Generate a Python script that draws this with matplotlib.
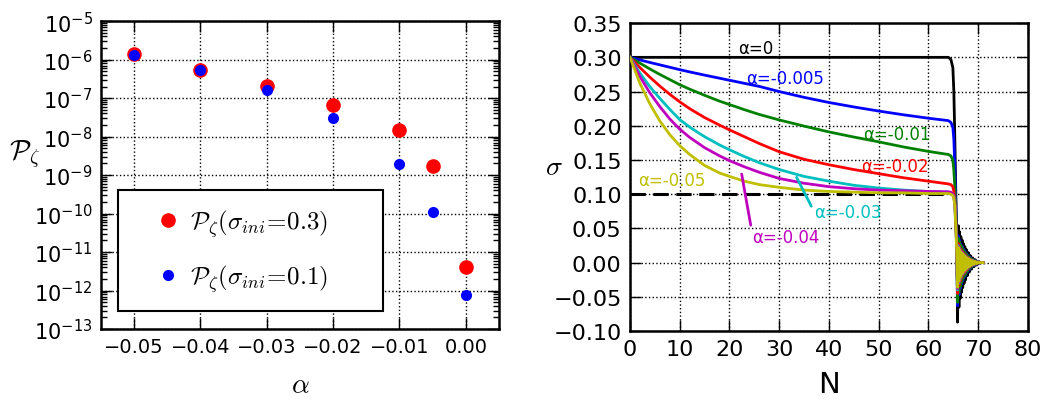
import matplotlib
matplotlib.use("Agg")
import matplotlib.pyplot as plt
import numpy as np
from matplotlib.ticker import FixedLocator, FuncFormatter, LogLocator, NullFormatter

plt.rcParams['mathtext.fontset'] = 'cm'
plt.rcParams['font.family'] = ['DejaVu Sans']

# ---------------- left panel data ----------------
alpha_vals = [-0.05, -0.04, -0.03, -0.02, -0.01, -0.005, 0.0]
P_sigma03 = [1.4e-6, 5.5e-7, 2.1e-7, 6.6e-8, 1.46e-8, 1.7e-9, 4.2e-12]
P_sigma01 = [1.35e-6, 5.5e-7, 1.6e-7, 3.0e-8, 1.9e-9, 1.08e-10, 7.6e-13]
alpha_ticks = [-0.05, -0.04, -0.03, -0.02, -0.01, 0.0]
alpha_ticklabels = ['\u22120.05', '\u22120.04', '\u22120.03', '\u22120.02', '\u22120.01', '0.00']
P_tick_exps = [-13, -12, -11, -10, -9, -8, -7, -6, -5]

# ---------------- right panel data ----------------
N_base = [0, 2, 4, 6, 8, 10, 12, 15, 18, 20, 23, 26, 30, 35, 40, 45, 50, 55, 60, 64,
          64.5, 64.9, 65.1, 65.3, 65.5, 65.7]
sig_a0 = [0.30, 0.30, 0.30, 0.30, 0.30, 0.30, 0.30, 0.30, 0.30, 0.30, 0.30, 0.30, 0.30, 0.30, 0.30, 0.30, 0.30, 0.30, 0.30, 0.300,
          0.297, 0.285, 0.25, 0.18, 0.10, 0.03]
sig_a0005 = [0.30, 0.2962, 0.2925, 0.289, 0.2855, 0.282, 0.2787, 0.274, 0.2695, 0.2665, 0.262, 0.2575, 0.250, 0.2415, 0.234, 0.2275, 0.2215, 0.216, 0.211, 0.2075,
             0.205, 0.198, 0.18, 0.14, 0.08, 0.025]
sig_a001 = [0.30, 0.2915, 0.283, 0.275, 0.2675, 0.260, 0.2535, 0.2445, 0.236, 0.231, 0.2235, 0.2165, 0.2085, 0.1995, 0.191, 0.1835, 0.1765, 0.169, 0.1625, 0.158,
            0.156, 0.150, 0.135, 0.11, 0.07, 0.02]
sig_a002 = [0.30, 0.285, 0.271, 0.258, 0.246, 0.235, 0.225, 0.212, 0.201, 0.194, 0.184, 0.174, 0.162, 0.151, 0.143, 0.136, 0.130, 0.124, 0.119, 0.115,
            0.114, 0.111, 0.104, 0.09, 0.06, 0.018]
sig_a003 = [0.30, 0.277, 0.257, 0.240, 0.224, 0.209, 0.198, 0.184, 0.172, 0.165, 0.155, 0.146, 0.136, 0.126, 0.119, 0.113, 0.109, 0.106, 0.104, 0.103,
            0.102, 0.100, 0.096, 0.085, 0.055, 0.015]
sig_a004 = [0.30, 0.272, 0.248, 0.228, 0.210, 0.195, 0.183, 0.168, 0.156, 0.149, 0.140, 0.132, 0.123, 0.116, 0.111, 0.108, 0.106, 0.105, 0.104, 0.1035,
            0.103, 0.100, 0.096, 0.085, 0.055, 0.015]
sig_a005 = [0.30, 0.262, 0.232, 0.207, 0.187, 0.171, 0.158, 0.142, 0.131, 0.126, 0.119, 0.114, 0.110, 0.106, 0.104, 0.103, 0.102, 0.102, 0.101, 0.101,
            0.100, 0.098, 0.094, 0.083, 0.05, 0.012]

# damped oscillation after the end of inflation (unit envelope)
N_tail = [65.85, 66.0, 66.12, 66.25, 66.38, 66.5, 66.62, 66.75, 66.88, 67.0, 67.15, 67.3, 67.45, 67.6,
          67.8, 68.0, 68.2, 68.4, 68.65, 68.9, 69.15, 69.4, 69.7, 70.0, 70.3, 70.6, 71.0]
osc_tail = [-1.0, 0.62, -0.75, 0.52, -0.6, 0.44, -0.5, 0.38, -0.42, 0.32, -0.35, 0.27, -0.29, 0.22,
            -0.22, 0.17, -0.16, 0.12, -0.11, 0.08, -0.07, 0.05, -0.04, 0.025, -0.015, 0.006, 0.0]
amp_a0, amp_a0005, amp_a001, amp_a002, amp_a003, amp_a004, amp_a005 = 0.087, 0.063, 0.058, 0.045, 0.04, 0.038, 0.036

curves = [
    (sig_a0, amp_a0, 'k'),
    (sig_a0005, amp_a0005, 'b'),
    (sig_a001, amp_a001, 'g'),
    (sig_a002, amp_a002, 'r'),
    (sig_a003, amp_a003, 'c'),
    (sig_a004, amp_a004, 'm'),
    (sig_a005, amp_a005, 'y'),
]
sigma_end = 0.10

# ---------------- figure ----------------
fig = plt.figure(figsize=(10.43, 4.02), dpi=100)
ax1 = fig.add_axes([0.0968, 0.179, 0.3816, 0.766])
ax2 = fig.add_axes([0.604, 0.174, 0.3816, 0.766])

# left panel
ax1.set_yscale('log')
ax1.plot(alpha_vals, P_sigma03, 'o', color='r', mec='r', ms=9.5, label=r'$\mathcal{P}_\zeta(\sigma_{ini}\!=\!0.3)$', zorder=3)
ax1.plot(alpha_vals, P_sigma01, 'o', color='b', mec='b', ms=7, label=r'$\mathcal{P}_\zeta(\sigma_{ini}\!=\!0.1)$', zorder=4)
ax1.set_xlim(-0.055, 0.005)
ax1.set_ylim(1e-13, 1e-5)
ax1.xaxis.set_major_locator(FixedLocator(alpha_ticks))
ax1.set_xticklabels(alpha_ticklabels)
ax1.yaxis.set_major_locator(FixedLocator([10.0 ** e for e in P_tick_exps]))
ax1.yaxis.set_major_formatter(FuncFormatter(lambda v, p: r'$\mathregular{10^{%d}}$' % int(round(np.log10(v)))))
ax1.yaxis.set_minor_locator(LogLocator(base=10, subs=np.arange(2, 10), numticks=30))
ax1.yaxis.set_minor_formatter(NullFormatter())
ax1.grid(True, which='major', color='k', linestyle=':', linewidth=1)
ax1.tick_params(which='both', direction='in', top=True, right=True, width=1)
ax1.tick_params(axis='y', which='major', labelsize=15, pad=6)
ax1.tick_params(axis='x', which='major', labelsize=14, pad=6)
ax1.tick_params(which='major', length=8)
ax1.tick_params(which='minor', length=4)
ax1.set_xlabel(r'$\alpha$', fontsize=20, labelpad=10)
ax1.set_ylabel(r'$\mathcal{P}_\zeta$', fontsize=20, rotation=0, labelpad=18)
ax1.yaxis.set_label_coords(-0.19, 0.52)
leg = ax1.legend(loc='lower left', bbox_to_anchor=(0.043, 0.058, 0.666, 0.38), mode='expand',
                 borderaxespad=0, fontsize=18, numpoints=1, fancybox=False, framealpha=1, edgecolor='k',
                 borderpad=0.7, labelspacing=0.9, handletextpad=-0.42, handlelength=2.6)
leg.get_frame().set_linewidth(1.5)
for sp in ax1.spines.values():
    sp.set_linewidth(1.8)

# right panel
ax2.plot([0, 65.3], [sigma_end, sigma_end], color='k', linestyle=(0, (5, 2.5)), linewidth=2.2, zorder=2)
for sig, amp, col in curves:
    xs = list(N_base) + list(N_tail)
    ys = list(sig) + [amp * o for o in osc_tail]
    ax2.plot(xs, ys, color=col, linewidth=2, zorder=3)
ax2.set_xlim(0, 80)
ax2.set_ylim(-0.10, 0.35)
ax2.set_xticks(np.arange(0, 81, 10))
ax2.set_yticks(np.arange(-0.10, 0.351, 0.05))
ax2.yaxis.set_major_formatter(FuncFormatter(lambda v, p: ('%.2f' % v).replace('-', '\u2212')))
ax2.grid(True, color='k', linestyle=':', linewidth=1)
ax2.tick_params(direction='in', top=True, right=True, labelsize=16, length=8, width=1)
ax2.tick_params(axis='x', pad=6)
ax2.tick_params(axis='y', pad=6)
ax2.set_xlabel('N', fontsize=21, labelpad=8)
ax2.set_ylabel(r'$\sigma$', fontsize=20, rotation=0, labelpad=18)
ax2.yaxis.set_label_coords(-0.19, 0.49)
for sp in ax2.spines.values():
    sp.set_linewidth(1.8)

tfs = 12
ax2.text(21.7, 0.313, '\u03b1=0', color='k', fontsize=tfs, va='center')
ax2.text(23.4, 0.2696, '\u03b1=-0.005', color='b', fontsize=tfs, va='center')
ax2.text(46.9, 0.1878, '\u03b1=-0.01', color='g', fontsize=tfs, va='center')
ax2.text(46.4, 0.1416, '\u03b1=-0.02', color='r', fontsize=tfs, va='center')
ax2.text(1.6, 0.1207, '\u03b1=-0.05', color='y', fontsize=tfs, va='center')
ax2.annotate('\u03b1=-0.03', xy=(33.5, 0.1246), xytext=(37.0, 0.0745), color='c', fontsize=tfs, va='center',
             arrowprops=dict(arrowstyle='-', color='c', lw=2, shrinkA=0, shrinkB=0,
                             relpos=(0, 0.5)))
ax2.annotate('\u03b1=-0.04', xy=(22.45, 0.1294), xytext=(24.5, 0.0375), color='m', fontsize=tfs, va='center',
             arrowprops=dict(arrowstyle='-', color='m', lw=2, shrinkA=0, shrinkB=0,
                             relpos=(0, 0.8)))

fig.savefig('out.png', dpi=100)
